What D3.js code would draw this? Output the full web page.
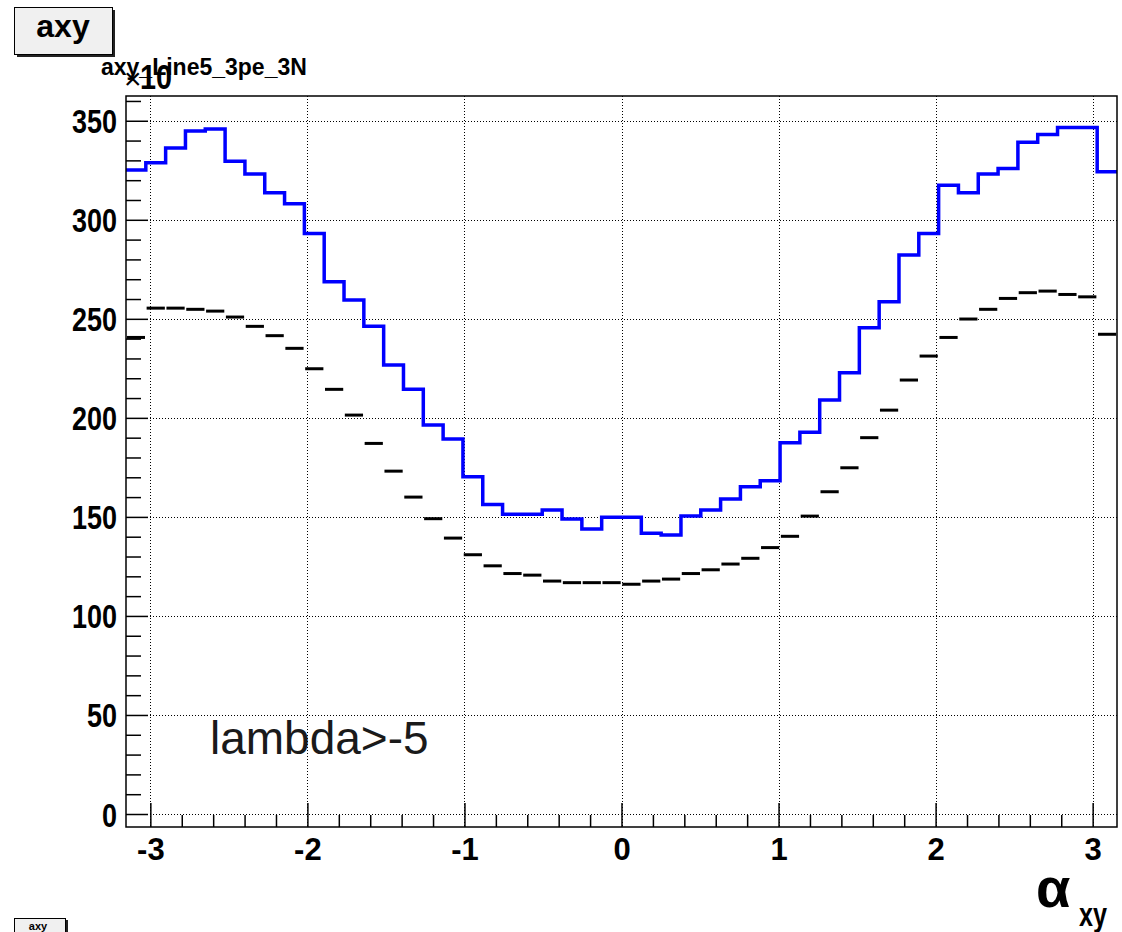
<!DOCTYPE html>
<html>
<head>
<meta charset="utf-8">
<script src="https://cdn.jsdelivr.net/npm/d3@7"></script>
<style>
  html, body { margin: 0; padding: 0; background: #fff; }
  svg { display: block; }
  text { font-family: "Liberation Sans", Arial, Helvetica, sans-serif; }
</style>
</head>
<body>
<svg id="chart" width="1122" height="932"></svg>
<script>
// ---- data ----
const histRange = [-3.155, 3.155];     // x range of the histogram (≈ ±π)
const yRange = [-6.56, 362.5];          // y axis range (units of 10^3)
const blueValues = [
  325.1, 328.8, 336.3, 344.8, 345.8, 329.6, 323.1, 313.6, 308.1, 293.1,
  268.7, 259.5, 246.3, 226.7, 214.4, 196.4, 189.3, 170.3, 156.3, 151.3,
  151.3, 153.5, 148.9, 143.9, 149.8, 149.8, 141.7, 140.8, 150.4, 153.5,
  159.0, 165.2, 168.2, 187.4, 192.7, 209.0, 222.8, 245.5, 258.6, 282.2,
  293.1, 317.4, 313.6, 323.1, 325.9, 339.1, 343.1, 346.6, 346.6, 324.2
];
const blackValues = [
  240.6, 255.4, 255.4, 254.8, 253.9, 250.9, 246.2, 241.5, 235.1, 224.8,
  214.4, 201.4, 187.1, 173.1, 160.0, 149.1, 139.3, 130.9, 125.3, 121.4,
  120.6, 117.6, 116.8, 116.8, 116.8, 116.0, 117.6, 118.6, 121.4, 123.3,
  126.2, 129.1, 134.5, 140.2, 150.4, 162.7, 174.8, 190.0, 203.9, 219.1,
  231.2, 240.6, 249.9, 254.8, 260.3, 263.2, 264.0, 262.3, 261.1, 242.2
];
const xMajorTicks = [-3, -2, -1, 0, 1, 2, 3];
const yMajorTicks = [0, 50, 100, 150, 200, 250, 300, 350];
const titleText = "axy_Line5_3pe_3N";
const statBoxLabel = "axy";
const noteText = "lambda>-5";

// ---- layout ----
const frame = { left: 126, right: 1117, top: 96, bottom: 827 };
const svg = d3.select("#chart");

const x = d3.scaleLinear().domain(histRange).range([frame.left, frame.right]);
const y = d3.scaleLinear().domain(yRange).range([frame.bottom, frame.top]);

const nBins = blueValues.length;
const binW = (histRange[1] - histRange[0]) / nBins;
const edges = d3.range(nBins + 1).map(i => histRange[0] + i * binW);

const yMinor = d3.range(0, 361, 10).filter(v => v % 50 !== 0);
const xMinorVals = d3.range(-15, 16).map(k => k / 5).filter(v => Math.abs(v - Math.round(v)) > 1e-6);

// ---- grid ----
const grid = svg.append("g").attr("stroke", "#000").attr("stroke-width", 1)
  .attr("stroke-dasharray", "1,2").attr("fill", "none");
grid.selectAll("line.gx").data(xMajorTicks).join("line")
  .attr("x1", d => Math.round(x(d)) + 0.5).attr("x2", d => Math.round(x(d)) + 0.5)
  .attr("y1", frame.top).attr("y2", frame.bottom);
grid.selectAll("line.gy").data(yMajorTicks).join("line")
  .attr("y1", d => Math.round(y(d)) + 0.5).attr("y2", d => Math.round(y(d)) + 0.5)
  .attr("x1", frame.left).attr("x2", frame.right);

// ---- histograms ----
const stepPts = [];
blueValues.forEach((v, i) => { stepPts.push([edges[i], v]); stepPts.push([edges[i + 1], v]); });
svg.append("path")
  .datum(stepPts)
  .attr("fill", "none")
  .attr("stroke", "#0000ff")
  .attr("stroke-width", 3.5)
  .attr("stroke-linejoin", "miter")
  .attr("d", d3.line().x(d => x(d[0])).y(d => y(d[1])));

svg.append("g").selectAll("line").data(blackValues).join("line")
  .attr("x1", (d, i) => x(edges[i]) + 0.8)
  .attr("x2", (d, i) => x(edges[i + 1]) - 0.8)
  .attr("y1", d => y(d)).attr("y2", d => y(d))
  .attr("stroke", "#000").attr("stroke-width", 3);

// ---- axes ----
const yAxisMajor = d3.axisLeft(y).tickValues(yMajorTicks).tickSizeInner(-22).tickSizeOuter(0).tickPadding(9);
const gy = svg.append("g").attr("transform", `translate(${frame.left},0)`).call(yAxisMajor);
gy.select(".domain").remove();
gy.selectAll(".tick line").attr("stroke", "#000").attr("stroke-width", 1.5);
gy.selectAll(".tick text")
  .attr("font-family", "'Liberation Sans', Arial, sans-serif")
  .attr("font-size", 33).attr("font-weight", "bold").attr("fill", "#000")
  .attr("dy", 12)
  .attr("textLength", d => String(d).length * 15)
  .attr("lengthAdjust", "spacingAndGlyphs");

const yAxisMinor = d3.axisLeft(y).tickValues(yMinor).tickSizeInner(-15).tickSizeOuter(0).tickFormat("");
const gym = svg.append("g").attr("transform", `translate(${frame.left},0)`).call(yAxisMinor);
gym.select(".domain").remove();
gym.selectAll(".tick line").attr("stroke", "#000").attr("stroke-width", 1.5);

const xAxisMajor = d3.axisBottom(x).tickValues(xMajorTicks).tickSizeInner(-24).tickSizeOuter(0).tickFormat(d3.format("d"));
const gx = svg.append("g").attr("transform", `translate(0,${frame.bottom})`).call(xAxisMajor);
gx.select(".domain").remove();
gx.selectAll(".tick line").attr("stroke", "#000").attr("stroke-width", 1.5);
gx.selectAll(".tick text")
  .attr("font-family", "'Liberation Sans', Arial, sans-serif")
  .attr("font-size", 31).attr("font-weight", "bold").attr("fill", "#000")
  .attr("y", 33).attr("dy", 0)
  .text(d => d < 0 ? "-" + Math.abs(d) : String(d));

const xAxisMinor = d3.axisBottom(x).tickValues(xMinorVals).tickSizeInner(-12).tickSizeOuter(0).tickFormat("");
const gxm = svg.append("g").attr("transform", `translate(0,${frame.bottom})`).call(xAxisMinor);
gxm.select(".domain").remove();
gxm.selectAll(".tick line").attr("stroke", "#000").attr("stroke-width", 1.5);

// ---- frame ----
svg.append("rect")
  .attr("x", frame.left).attr("y", frame.top)
  .attr("width", frame.right - frame.left).attr("height", frame.bottom - frame.top)
  .attr("fill", "none").attr("stroke", "#000").attr("stroke-width", 1.5);

// ---- title & multiplier ----
svg.append("text").attr("x", 101).attr("y", 75)
  .attr("font-size", 23).attr("font-weight", "bold").attr("fill", "#000")
  .text(titleText);
svg.append("text").attr("x", 124).attr("y", 89)
  .attr("font-size", 30).attr("fill", "#000").text("×");
svg.append("text").attr("x", 140).attr("y", 89)
  .attr("font-size", 35).attr("font-weight", "bold").attr("fill", "#000")
  .attr("textLength", 32).attr("lengthAdjust", "spacingAndGlyphs").text("10");

// ---- top-left stat box ----
svg.append("rect").attr("x", 17).attr("y", 10).attr("width", 98).attr("height", 47).attr("fill", "#222");
svg.append("rect").attr("x", 14.5).attr("y", 7.5).attr("width", 98).attr("height", 47)
  .attr("fill", "#f0f0f0").attr("stroke", "#000").attr("stroke-width", 1);
svg.append("text").attr("x", 63).attr("y", 37).attr("text-anchor", "middle")
  .attr("font-size", 32).attr("font-weight", "bold").attr("fill", "#000").text(statBoxLabel);

// ---- bottom-left small box ----
svg.append("rect").attr("x", 16).attr("y", 920).attr("width", 52).attr("height", 20).attr("fill", "#222");
svg.append("rect").attr("x", 14.5).attr("y", 918.5).attr("width", 51).attr("height", 20)
  .attr("fill", "#f0f0f0").attr("stroke", "#000").attr("stroke-width", 1);
svg.append("text").attr("x", 38).attr("y", 930).attr("text-anchor", "middle")
  .attr("font-size", 11).attr("font-weight", "bold").attr("fill", "#000").text(statBoxLabel);

// ---- annotation ----
svg.append("text").attr("x", 210).attr("y", 754)
  .attr("font-size", 46).attr("fill", "#1a1a1a").text(noteText);

// ---- x axis title: alpha_xy ----
svg.append("text").attr("x", 1036).attr("y", 907)
  .attr("font-family", "'DejaVu Serif', serif")
  .attr("font-size", 56).attr("font-weight", "bold").attr("fill", "#000").text("α");
svg.append("text").attr("x", 1079).attr("y", 926)
  .attr("font-size", 34).attr("font-weight", "bold").attr("fill", "#000")
  .attr("textLength", 28).attr("lengthAdjust", "spacingAndGlyphs").text("xy");
</script>
</body>
</html>
